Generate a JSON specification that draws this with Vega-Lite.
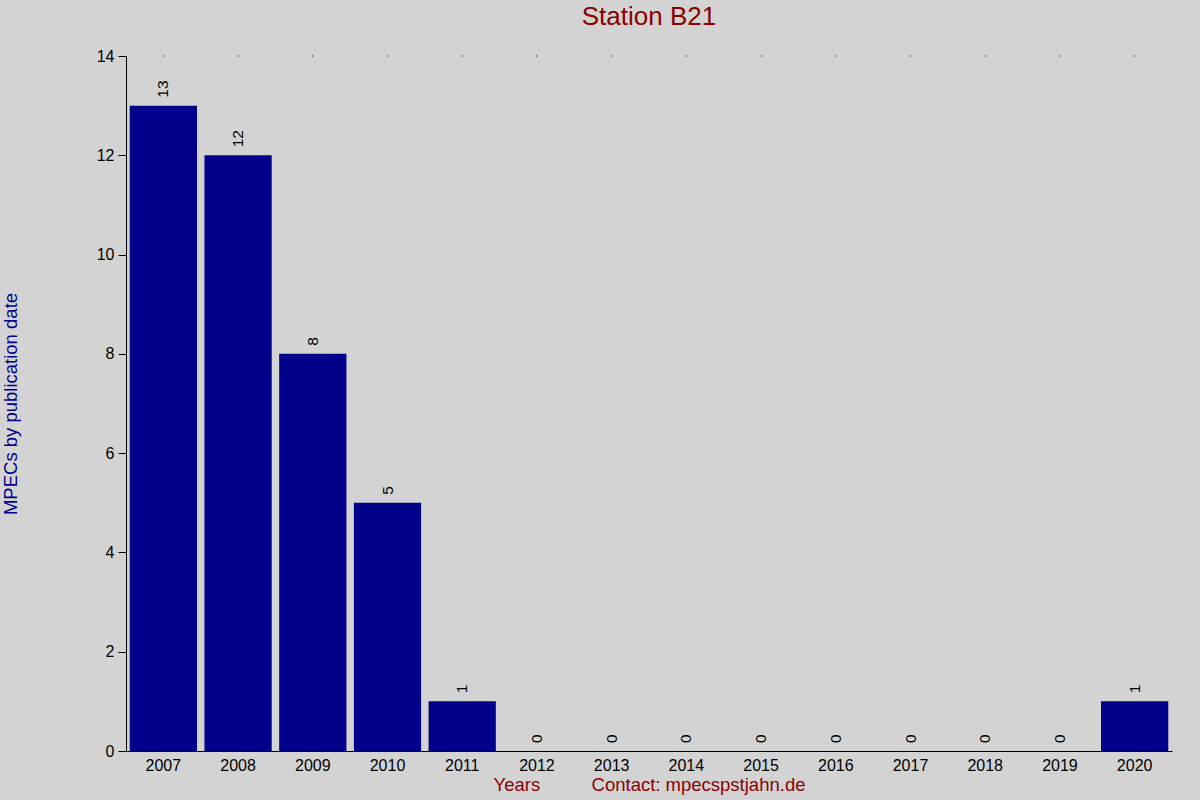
{
  "$schema": "https://vega.github.io/schema/vega-lite/v6.json",
  "autosize": "none",
  "width": 1046,
  "height": 695,
  "padding": {"left": 126, "top": 56, "right": 28, "bottom": 49},
  "background": "#d3d3d3",
  "config": {
    "view": {"stroke": null},
    "font": "Liberation Sans",
    "axis": {"grid": false, "domainColor": "black", "tickColor": "black", "labelColor": "black", "labelFont": "Liberation Sans", "titleFont": "Liberation Sans", "titleFontWeight": "normal"}
  },
  "title": {"text": "Station B21", "color": "#8b0000", "fontSize": 26, "fontWeight": "normal", "font": "Liberation Sans", "anchor": "middle", "offset": 18},
  "data": {"values": [
    {"year": "2007", "count": 13},
    {"year": "2008", "count": 12},
    {"year": "2009", "count": 8},
    {"year": "2010", "count": 5},
    {"year": "2011", "count": 1},
    {"year": "2012", "count": 0},
    {"year": "2013", "count": 0},
    {"year": "2014", "count": 0},
    {"year": "2015", "count": 0},
    {"year": "2016", "count": 0},
    {"year": "2017", "count": 0},
    {"year": "2018", "count": 0},
    {"year": "2019", "count": 0},
    {"year": "2020", "count": 1}
  ]},
  "layer": [
    {
      "mark": {"type": "bar", "color": "#00008b"},
      "encoding": {
        "x": {"field": "year", "type": "ordinal", "scale": {"paddingInner": 0.1, "paddingOuter": 0.05},
          "axis": {"orient": "bottom", "labelAngle": 0, "labelFontSize": 16, "ticks": false, "labelPadding": 6,
            "title": "Years\u00a0\u00a0\u00a0\u00a0\u00a0\u00a0\u00a0\u00a0\u00a0\u00a0Contact: mpecspstjahn.de", "titleColor": "#8b0000", "titleFontSize": 18.5, "titlePadding": 2}},
        "y": {"field": "count", "type": "quantitative", "scale": {"domain": [0, 14], "nice": false},
          "axis": {"values": [0, 2, 4, 6, 8, 10, 12, 14], "labelFontSize": 16, "tickSize": 8, "labelPadding": 4,
            "title": "MPECs by publication date", "titleColor": "#00008b", "titleFontSize": 18.5, "titlePadding": 76}}
      }
    },
    {
      "mark": {"type": "text", "angle": 270, "align": "left", "baseline": "middle", "dx": 8, "fontSize": 15.5, "color": "black"},
      "encoding": {
        "x": {"field": "year", "type": "ordinal",
          "axis": {"orient": "top", "labels": false, "domain": false, "ticks": true, "tickSize": 1, "title": null}},
        "y": {"field": "count", "type": "quantitative"},
        "text": {"field": "count", "type": "quantitative"}
      }
    }
  ],
  "resolve": {"axis": {"x": "independent"}}
}
